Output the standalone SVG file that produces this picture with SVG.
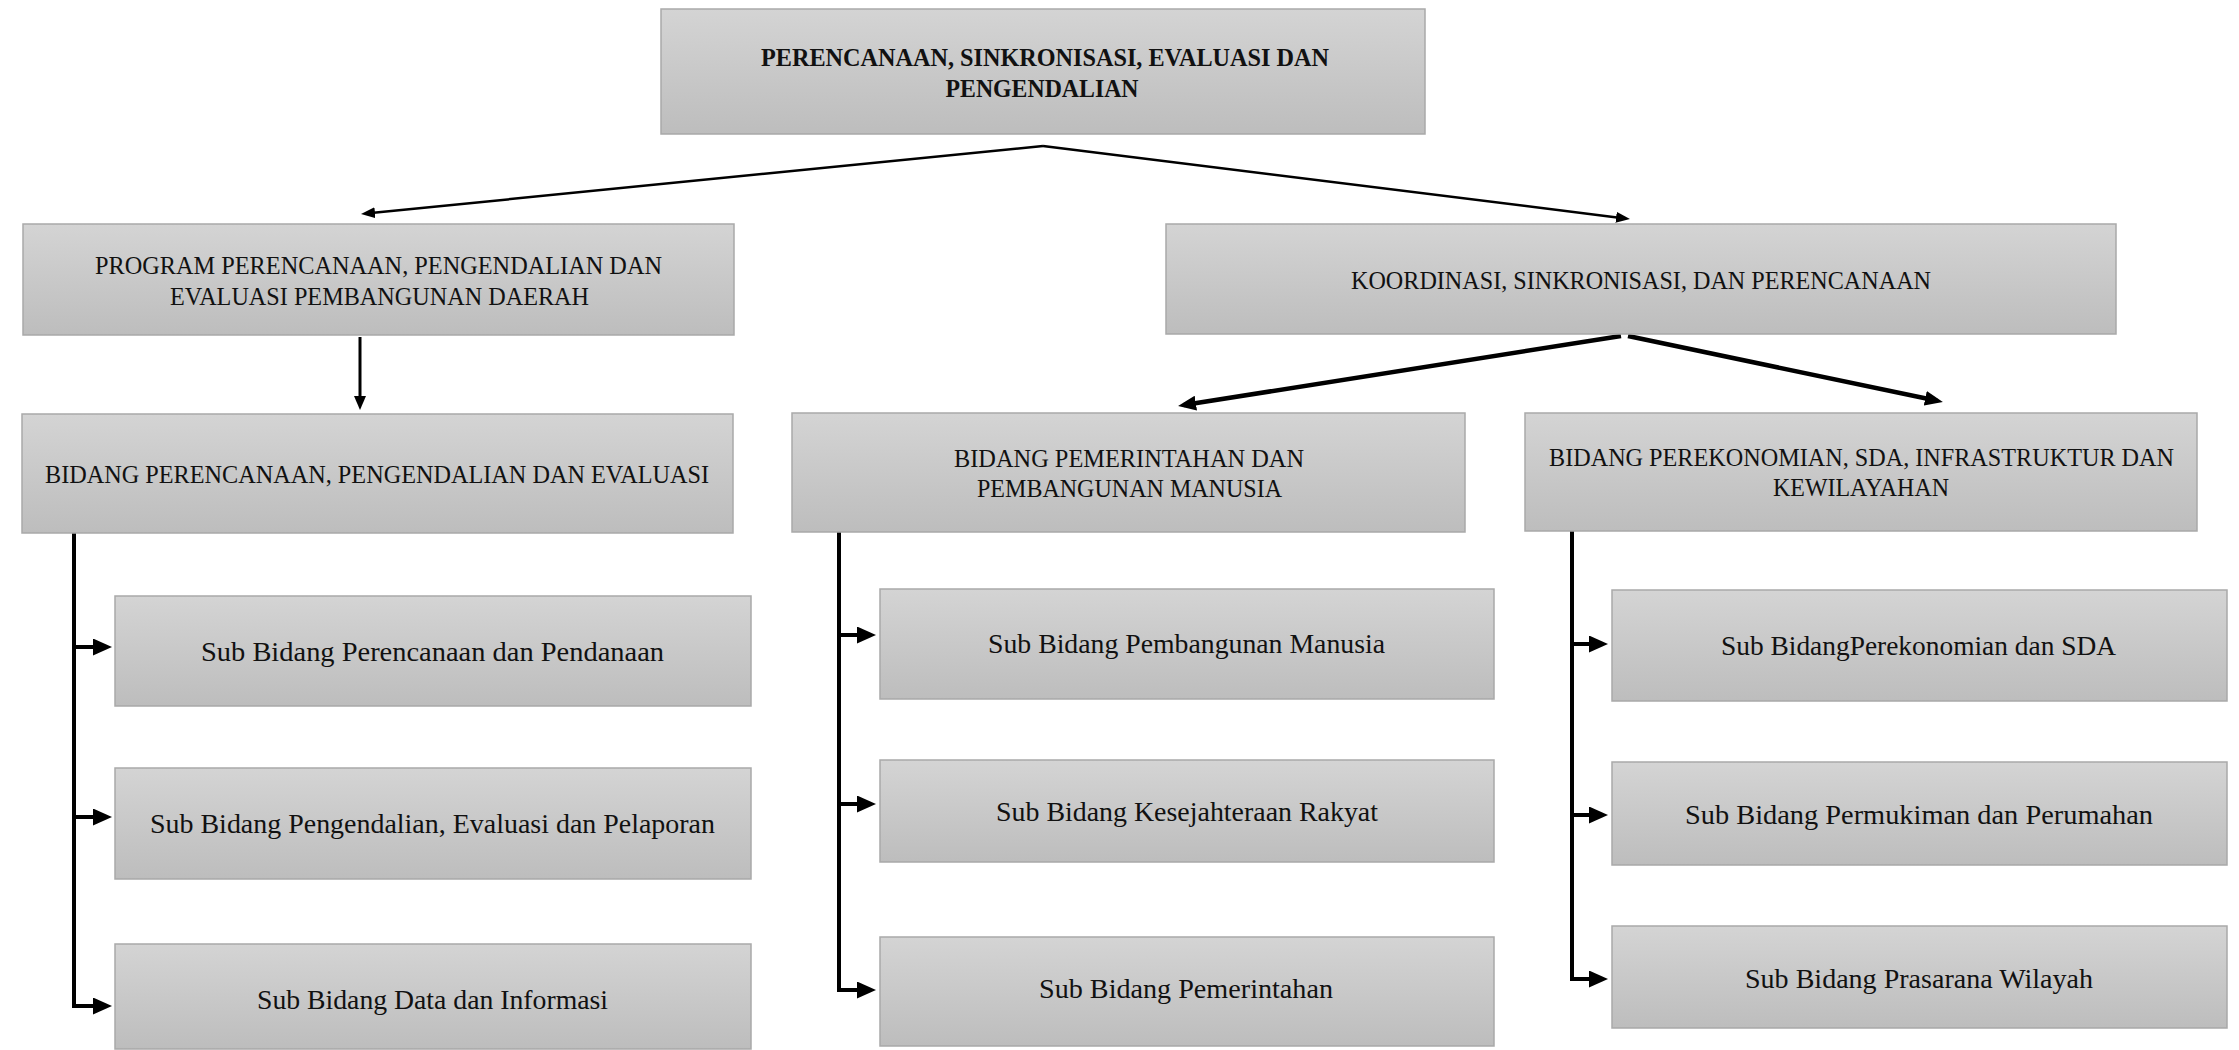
<svg xmlns="http://www.w3.org/2000/svg" width="2239" height="1050" viewBox="0 0 2239 1050">
  <defs>
    <linearGradient id="boxFill" x1="0" y1="0" x2="0" y2="1">
      <stop offset="0" stop-color="#d4d4d4"/>
      <stop offset="1" stop-color="#bdbdbd"/>
    </linearGradient>
    <marker id="head-thin" markerUnits="userSpaceOnUse" markerWidth="14" markerHeight="11" refX="9" refY="5.5" orient="auto">
      <path d="M0,0 L14,5.5 L0,11 Z" fill="#000"/>
    </marker>
    <marker id="head-mid" markerUnits="userSpaceOnUse" markerWidth="14" markerHeight="12" refX="9" refY="6" orient="auto">
      <path d="M0,0 L14,6 L0,12 Z" fill="#000"/>
    </marker>
    <marker id="head-thick" markerUnits="userSpaceOnUse" markerWidth="18" markerHeight="15" refX="12" refY="7.5" orient="auto">
      <path d="M0,0 L18,7.5 L0,15 Z" fill="#000"/>
    </marker>
    <marker id="head-sub" markerUnits="userSpaceOnUse" markerWidth="19" markerHeight="17" refX="12" refY="8.5" orient="auto">
      <path d="M0,0 L19,8.5 L0,17 Z" fill="#000"/>
    </marker>
  </defs>
  <style>
    rect.box { fill: url(#boxFill); stroke: #a9a9a9; stroke-width: 1.5; }
    text { font-family: "Liberation Serif", "DejaVu Serif", serif; font-size: 28px; fill: #111; text-anchor: middle; }
    text.caps { font-size: 26px; }
    text.title { font-weight: bold; font-size: 25px; }
    .conn path { fill: none; stroke: #000; stroke-linejoin: miter; }
    .thin { stroke-width: 2.5; marker-end: url(#head-thin); }
    .mid { stroke-width: 3; marker-end: url(#head-mid); }
    .thick { stroke-width: 4.5; marker-end: url(#head-thick); }
    .sub { stroke-width: 4; marker-end: url(#head-sub); }
  </style>

  <rect width="2239" height="1050" fill="#ffffff"/>

  <!-- connectors -->
  <g id="connectors" class="conn">
    <path class="thin" d="M1043,146 L366,213.5"/>
    <path class="thin" d="M1043,146 L1625,218.4"/>
    <path class="mid" d="M360,337 L360,405"/>
    <path class="thick" d="M1621,336 L1184,405"/>
    <path class="thick" d="M1628,336 L1937,400.8"/>
    <!-- left column -->
    <path class="sub" d="M74,533 V1006 H105"/>
    <path class="sub" d="M74,647 H105"/>
    <path class="sub" d="M74,817 H105"/>
    <!-- middle column -->
    <path class="sub" d="M839,532 V990 H869"/>
    <path class="sub" d="M839,635 H869"/>
    <path class="sub" d="M839,804 H869"/>
    <!-- right column -->
    <path class="sub" d="M1572,531 V979 H1601"/>
    <path class="sub" d="M1572,644 H1601"/>
    <path class="sub" d="M1572,815 H1601"/>
  </g>

  <g id="node-psep">
    <rect class="box" x="661" y="9" width="764" height="125"/>
    <text class="title" x="1045" y="66" textLength="568" lengthAdjust="spacingAndGlyphs">PERENCANAAN, SINKRONISASI, EVALUASI DAN</text>
    <text class="title" x="1042" y="97" textLength="193" lengthAdjust="spacingAndGlyphs">PENGENDALIAN</text>
  </g>

  <g id="node-program">
    <rect class="box" x="23" y="224" width="711" height="111"/>
    <text class="caps" x="378.5" y="274" textLength="567" lengthAdjust="spacingAndGlyphs">PROGRAM PERENCANAAN, PENGENDALIAN DAN</text>
    <text class="caps" x="379.5" y="305" textLength="419" lengthAdjust="spacingAndGlyphs">EVALUASI PEMBANGUNAN DAERAH</text>
  </g>

  <g id="node-koordinasi">
    <rect class="box" x="1166" y="224" width="950" height="110"/>
    <text class="caps" x="1641" y="289" textLength="580" lengthAdjust="spacingAndGlyphs">KOORDINASI, SINKRONISASI, DAN PERENCANAAN</text>
  </g>

  <g id="node-bidang-ppe">
    <rect class="box" x="22" y="414" width="711" height="119"/>
    <text class="caps" x="377" y="483" textLength="664" lengthAdjust="spacingAndGlyphs">BIDANG PERENCANAAN, PENGENDALIAN DAN EVALUASI</text>
  </g>

  <g id="node-bidang-ppm">
    <rect class="box" x="792" y="413" width="673" height="119"/>
    <text class="caps" x="1129" y="467" textLength="350" lengthAdjust="spacingAndGlyphs">BIDANG PEMERINTAHAN DAN</text>
    <text class="caps" x="1129.5" y="497" textLength="305" lengthAdjust="spacingAndGlyphs">PEMBANGUNAN MANUSIA</text>
  </g>

  <g id="node-bidang-psik">
    <rect class="box" x="1525" y="413" width="672" height="118"/>
    <text class="caps" x="1861.5" y="466" textLength="625" lengthAdjust="spacingAndGlyphs">BIDANG PEREKONOMIAN, SDA, INFRASTRUKTUR DAN</text>
    <text class="caps" x="1861" y="496" textLength="176" lengthAdjust="spacingAndGlyphs">KEWILAYAHAN</text>
  </g>

  <!-- left column sub units -->
  <g id="node-sub-perencanaan">
    <rect class="box" x="115" y="596" width="636" height="110"/>
    <text x="432.5" y="661" textLength="463" lengthAdjust="spacingAndGlyphs">Sub Bidang Perencanaan dan Pendanaan</text>
  </g>
  <g id="node-sub-pengendalian">
    <rect class="box" x="115" y="768" width="636" height="111"/>
    <text x="432.5" y="833" textLength="565" lengthAdjust="spacingAndGlyphs">Sub Bidang Pengendalian, Evaluasi dan Pelaporan</text>
  </g>
  <g id="node-sub-data">
    <rect class="box" x="115" y="944" width="636" height="105"/>
    <text x="432.5" y="1009" textLength="351" lengthAdjust="spacingAndGlyphs">Sub Bidang Data dan Informasi</text>
  </g>

  <!-- middle column sub units -->
  <g id="node-sub-pembangunan">
    <rect class="box" x="880" y="589" width="614" height="110"/>
    <text x="1186.5" y="653" textLength="397" lengthAdjust="spacingAndGlyphs">Sub Bidang Pembangunan Manusia</text>
  </g>
  <g id="node-sub-kesejahteraan">
    <rect class="box" x="880" y="760" width="614" height="102"/>
    <text x="1187" y="821" textLength="382" lengthAdjust="spacingAndGlyphs">Sub Bidang Kesejahteraan Rakyat</text>
  </g>
  <g id="node-sub-pemerintahan">
    <rect class="box" x="880" y="937" width="614" height="109"/>
    <text x="1186" y="998" textLength="294" lengthAdjust="spacingAndGlyphs">Sub Bidang Pemerintahan</text>
  </g>

  <!-- right column sub units -->
  <g id="node-sub-perekonomian">
    <rect class="box" x="1612" y="590" width="615" height="111"/>
    <text x="1918.5" y="655" textLength="395" lengthAdjust="spacingAndGlyphs">Sub BidangPerekonomian dan SDA</text>
  </g>
  <g id="node-sub-permukiman">
    <rect class="box" x="1612" y="762" width="615" height="103"/>
    <text x="1919" y="824" textLength="468" lengthAdjust="spacingAndGlyphs">Sub Bidang Permukiman dan Perumahan</text>
  </g>
  <g id="node-sub-prasarana">
    <rect class="box" x="1612" y="926" width="615" height="102"/>
    <text x="1919" y="988" textLength="348" lengthAdjust="spacingAndGlyphs">Sub Bidang Prasarana Wilayah</text>
  </g>
</svg>
